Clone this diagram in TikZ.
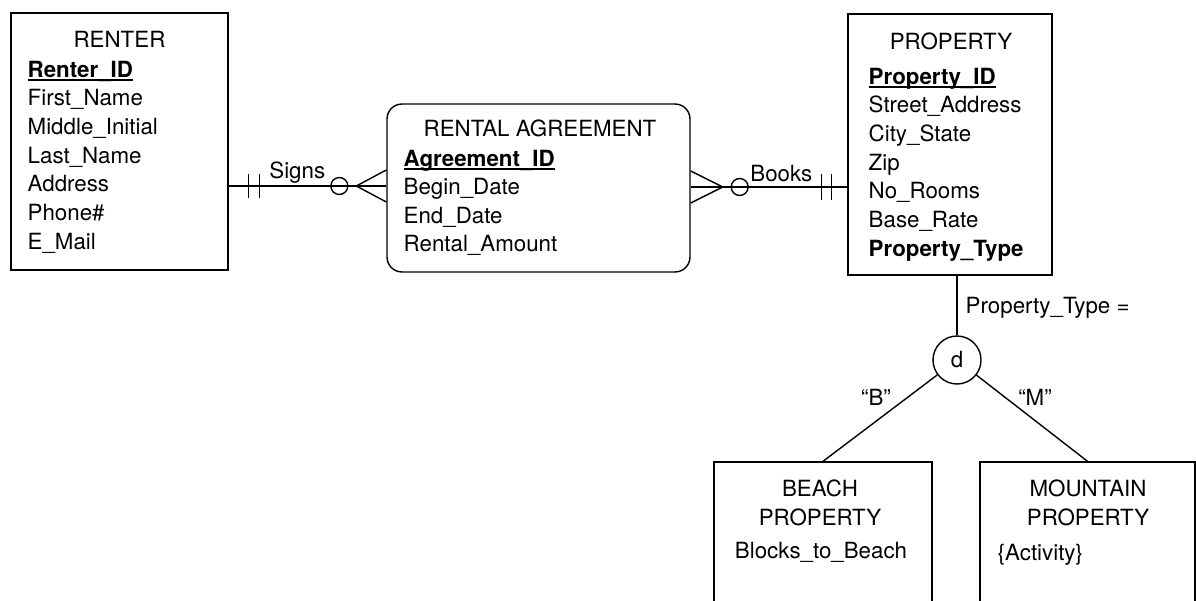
\documentclass[tikz,border=0pt]{standalone}
\usepackage{fontspec}
\setmainfont{TeX Gyre Heros}
\usetikzlibrary{calc}

% underlined key attribute
\newcommand{\pkey}[1]{\setbox0\hbox{\bfseries #1}\rlap{\rule[-2pt]{\wd0}{0.8pt}}\box0}

\begin{document}
\begin{tikzpicture}[
  x=0.02cm, y=-0.02cm,
  font=\fontsize{12.7}{16.3}\selectfont,
  line width=0.8pt,
  entity/.style={draw, inner sep=0pt},
  title/.style={anchor=base, align=center, inner sep=0pt},
  attrs/.style={anchor=base west, align=left, inner sep=0pt},
  lbl/.style={inner sep=0pt},
  opt/.style={draw, circle, minimum size=0.34cm, inner sep=0pt},
]
\useasboundingbox (0,0) rectangle (1196,601);

% entities (multi-line texts are placed by their last baseline)
\node[entity, minimum width=4.34cm, minimum height=5.14cm] (renter) at (119.5,141.5) {};
\node[title] (renter-t) at (119.5,48) {RENTER};
\node[attrs] (renter-a) at (27,249) {\pkey{Renter\_ID}\\First\_Name\\Middle\_Initial\\Last\_Name\\Address\\Phone\#\\E\_Mail};

\node[entity, rounded corners=0.3cm, minimum width=6.06cm, minimum height=3.36cm] (ra) at (538.5,188) {};
\node[title] (ra-t) at (540,137) {RENTAL AGREEMENT};
\node[attrs] (ra-a) at (403,252) {\pkey{Agreement\_ID}\\Begin\_Date\\End\_Date\\Rental\_Amount};

\node[entity, minimum width=4.08cm, minimum height=5.22cm] (property) at (950,144.5) {};
\node[title] (property-t) at (951,50) {PROPERTY};
\node[attrs] (property-a) at (868,256) {\pkey{Property\_ID}\\Street\_Address\\City\_State\\Zip\\No\_Rooms\\Base\_Rate\\\textbf{Property\_Type}};

% subtypes
\node[entity, minimum width=4.36cm, minimum height=3.4cm] (beach) at (823,547) {};
\node[title] (beach-t) at (820,525) {BEACH\\PROPERTY};
\node[title] (beach-a) at (821,558) {Blocks\_to\_Beach};

\node[entity, minimum width=4.3cm, minimum height=3.4cm] (mountain) at (1087.5,547) {};
\node[title] (mountain-t) at (1088,525) {MOUNTAIN\\PROPERTY};
\node[attrs] (mountain-a) at (997,560) {\{Activity\}};

% Signs
\coordinate (signs) at (0,186);
\draw (signs -| renter.east) -- (signs -| ra.west);
\draw ($(signs -| renter.east)+(20,-12)$) -- ++(0,24);
\draw ($(signs -| renter.east)+(31,-12)$) -- ++(0,24);
\node[opt] (signs-o) at ($(signs -| ra.west)+(-47,0)$) {};
\draw ($(signs -| ra.west)+(0,-16)$) -- ($(signs -| ra.west)+(-30,0)$) -- ($(signs -| ra.west)+(0,16)$);
\node[lbl, anchor=base west] (signs-l) at ($(signs -| renter.east)+(40,-7)$) {Signs};

% Books
\coordinate (books) at (0,187);
\draw (books -| ra.east) -- (books -| property.west);
\draw ($(books -| ra.east)+(0,-16)$) -- ($(books -| ra.east)+(32,0)$) -- ($(books -| ra.east)+(0,16)$);
\node[opt] (books-o) at ($(books -| ra.east)+(49,0)$) {};
\draw ($(books -| property.west)+(-26,-13)$) -- ++(0,26);
\draw ($(books -| property.west)+(-16,-13)$) -- ++(0,26);
\node[lbl, anchor=base west] (books-l) at ($(books -| ra.east)+(59,-5)$) {Books};

% disjoint subtypes
\node[draw, circle, minimum size=0.96cm, inner sep=0pt] (disj) at (957,360) {d};
\draw (disj.north) -- (disj.north |- property.south);
\draw (disj) -- (beach.north);
\draw (disj) -- (mountain.north);
\node[lbl, anchor=base west] (disj-l) at (965,313) {Property\_Type =};
\node[lbl] (b-l) at (876,397) {``B''};
\node[lbl] (m-l) at (1035,397) {``M''};

\end{tikzpicture}
\end{document}
